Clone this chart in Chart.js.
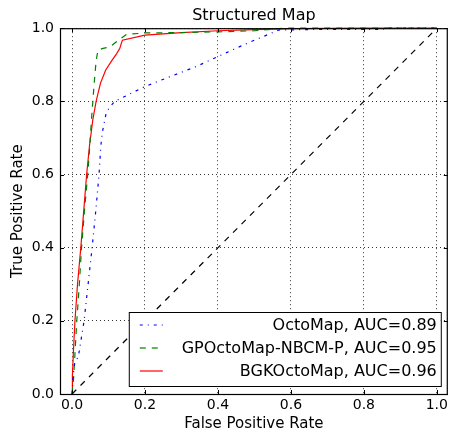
<!DOCTYPE html>
<html>
<head>
<meta charset="utf-8">
<script src="https://cdn.jsdelivr.net/npm/chart.js@4.4.0/dist/chart.umd.min.js"></script>
<style>
  html, body { margin: 0; padding: 0; background: #fff; }
</style>
</head>
<body>
<canvas id="roc" width="451" height="435"></canvas>
<script>
const titleText = 'Structured Map';
const xTicks = [0.0, 0.2, 0.4, 0.6, 0.8, 1.0];
const yTicks = [0.0, 0.2, 0.4, 0.6, 0.8, 1.0];
const seriesNames = ['OctoMap, AUC=0.89', 'GPOctoMap-NBCM-P, AUC=0.95', 'BGKOctoMap, AUC=0.96'];

// OctoMap (blue, dash-dot)
const octoFpr = [0, 0.003, 0.008, 0.017, 0.025, 0.033, 0.044, 0.055, 0.065, 0.074, 0.079, 0.084, 0.094, 0.104, 0.117, 0.199, 0.267, 0.34, 0.403, 0.485, 0.567, 0.7, 0.85, 0.87, 1.0];
const octoTpr = [0, 0.05, 0.09, 0.1, 0.15, 0.2, 0.3, 0.4, 0.5, 0.6, 0.68, 0.72, 0.77, 0.785, 0.8, 0.84, 0.867, 0.895, 0.924, 0.961, 0.995, 0.997, 0.997, 1.0, 1.0];

// GPOctoMap-NBCM-P (green, dashed)
const gpFpr = [0, 0.004, 0.008, 0.013, 0.02, 0.026, 0.034, 0.043, 0.048, 0.054, 0.061, 0.066, 0.071, 0.085, 0.104, 0.131, 0.149, 0.2, 0.3, 0.4, 0.5, 0.58, 0.7, 1.0];
const gpTpr = [0, 0.04, 0.11, 0.2, 0.3, 0.4, 0.5, 0.6, 0.67, 0.76, 0.853, 0.91, 0.94, 0.945, 0.949, 0.97, 0.983, 0.987, 0.988, 0.99, 0.993, 1.0, 1.0, 1.0];

// BGKOctoMap (red, solid)
const bgkFpr = [0, 0.001, 0.004, 0.008, 0.015, 0.024, 0.032, 0.04, 0.048, 0.057, 0.066, 0.078, 0.092, 0.108, 0.122, 0.131, 0.134, 0.138, 0.2, 0.3, 0.4, 0.5, 0.6, 0.8, 1.0];
const bgkTpr = [0, 0.05, 0.12, 0.2, 0.3, 0.4, 0.5, 0.6, 0.68, 0.75, 0.8, 0.85, 0.885, 0.91, 0.93, 0.945, 0.955, 0.967, 0.981, 0.988, 0.993, 0.996, 0.999, 1.0, 1.0];

// chance line
const chanceFpr = [0, 1];
const chanceTpr = [0, 1];

const FONT = "'DejaVu Sans', sans-serif";

function pts(xs, ys) {
  return xs.map((x, i) => ({ x: x, y: ys[i] }));
}

// center the title over the plot area, like matplotlib does
const titleOverPlot = {
  id: 'titleOverPlot',
  afterLayout(chart) {
    const t = chart.titleBlock;
    if (t) {
      t.left = chart.chartArea.left;
      t.right = chart.chartArea.right;
      t.width = t.right - t.left;
    }
  }
};

// inward ticks on all four sides + full box
const frameTicks = {
  id: 'frameTicks',
  afterDraw(chart) {
    const { ctx, chartArea: a, scales } = chart;
    ctx.save();
    ctx.strokeStyle = '#000';
    ctx.lineWidth = 1;
    ctx.beginPath();
    xTicks.forEach(v => {
      const px = Math.round(scales.x.getPixelForValue(v)) + 0.5;
      ctx.moveTo(px, a.bottom); ctx.lineTo(px, a.bottom - 4);
      ctx.moveTo(px, a.top); ctx.lineTo(px, a.top + 4);
    });
    yTicks.forEach(v => {
      const py = Math.round(scales.y.getPixelForValue(v)) + 0.5;
      ctx.moveTo(a.left, py); ctx.lineTo(a.left + 4, py);
      ctx.moveTo(a.right, py); ctx.lineTo(a.right - 4, py);
    });
    ctx.stroke();
    ctx.lineWidth = 1.2;
    ctx.strokeRect(a.left + 0.5, a.top + 0.5, a.right - a.left - 1, a.bottom - a.top);
    ctx.restore();
  }
};

// legend inside the plot, lower right
const insideLegend = {
  id: 'insideLegend',
  afterDraw(chart) {
    const { ctx, chartArea: a } = chart;
    const right = a.right - 7, bottom = a.bottom - 8;
    const w = 312, h = 74;
    const left = right - w, top = bottom - h;
    ctx.save();
    ctx.fillStyle = '#fff';
    ctx.fillRect(left, top, w, h);
    ctx.strokeStyle = '#000';
    ctx.lineWidth = 1;
    ctx.strokeRect(left + 0.5, top + 0.5, w, h);
    ctx.font = '16px ' + FONT;
    ctx.textAlign = 'right';
    ctx.textBaseline = 'middle';
    chart.data.datasets.slice(0, 3).forEach((ds, i) => {
      const cy = top + 13 + i * 23;
      ctx.strokeStyle = ds.borderColor;
      ctx.lineWidth = ds.borderWidth;
      ctx.setLineDash(ds.borderDash || []);
      ctx.beginPath();
      ctx.moveTo(left + 11, cy);
      ctx.lineTo(left + 34, cy);
      ctx.stroke();
      ctx.setLineDash([]);
      ctx.fillStyle = '#000';
      ctx.fillText(ds.label, right - 4, cy + 1);
    });
    ctx.restore();
  }
};

new Chart(document.getElementById('roc'), {
  type: 'line',
  data: {
    datasets: [
      { label: seriesNames[0], data: pts(octoFpr, octoTpr), borderColor: '#0000ff', borderWidth: 1.2, borderDash: [3, 5, 1, 5] },
      { label: seriesNames[1], data: pts(gpFpr, gpTpr), borderColor: '#008000', borderWidth: 1.2, borderDash: [6, 6] },
      { label: seriesNames[2], data: pts(bgkFpr, bgkTpr), borderColor: '#ff0000', borderWidth: 1.2 },
      { label: 'chance', data: pts(chanceFpr, chanceTpr), borderColor: '#000000', borderWidth: 1.2, borderDash: [6, 6] }
    ]
  },
  options: {
    responsive: false,
    animation: false,
    devicePixelRatio: 1,
    layout: { padding: { left: 0, right: 1, top: 0, bottom: 0 } },
    elements: {
      point: { radius: 0 },
      line: { tension: 0, fill: false }
    },
    datasets: { line: { clip: 3 } },
    plugins: {
      legend: { display: false },
      tooltip: { enabled: false },
      title: {
        display: true,
        text: titleText,
        color: '#000',
        font: { family: FONT, size: 16, weight: 'normal' },
        padding: { top: 6, bottom: 3 }
      }
    },
    scales: {
      x: {
        type: 'linear',
        min: -0.033,
        max: 1.03,
        afterBuildTicks: s => { s.ticks = xTicks.map(v => ({ value: v })); },
        afterFit: s => { s.height = 41; },
        ticks: {
          color: '#000',
          padding: 3,
          maxRotation: 0,
          font: { family: FONT, size: 14 },
          callback: v => Number(v).toFixed(1)
        },
        grid: { color: '#000', lineWidth: 0.8, drawTicks: false },
        border: { display: false, dash: [1, 3] },
        title: {
          display: true,
          text: 'False Positive Rate',
          color: '#000',
          font: { family: FONT, size: 15 },
          padding: { top: 0, bottom: 2 }
        }
      },
      y: {
        type: 'linear',
        min: 0,
        max: 1,
        afterBuildTicks: s => { s.ticks = yTicks.map(v => ({ value: v })); },
        afterFit: s => { s.width = 60; },
        ticks: {
          color: '#000',
          padding: 6,
          font: { family: FONT, size: 14 },
          callback: v => Number(v).toFixed(1)
        },
        grid: { color: '#000', lineWidth: 0.8, drawTicks: false },
        border: { display: false, dash: [1, 3] },
        title: {
          display: true,
          text: 'True Positive Rate',
          color: '#000',
          font: { family: FONT, size: 15 },
          padding: { top: 9, bottom: 0 }
        }
      }
    }
  },
  plugins: [titleOverPlot, frameTicks, insideLegend]
});
</script>
</body>
</html>
